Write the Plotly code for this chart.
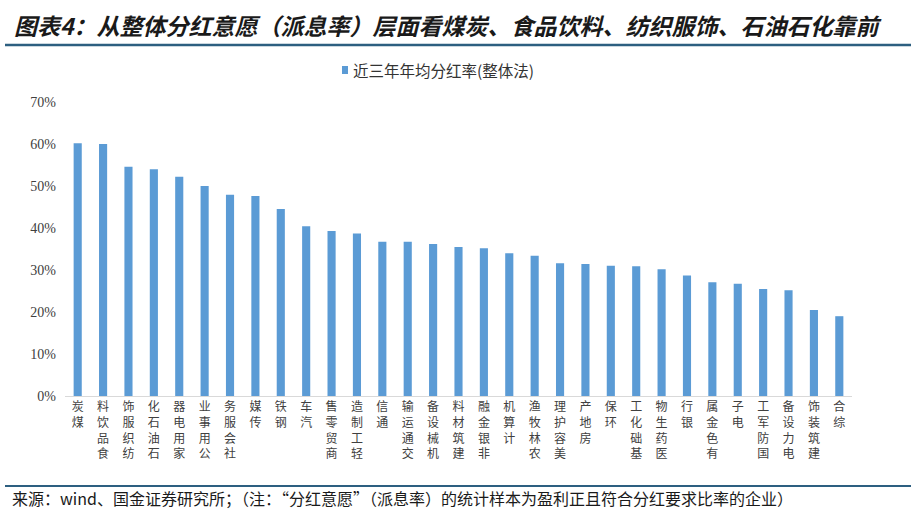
import plotly.graph_objects as go

# industries, sorted by payout ratio
industries = ['煤炭', '食品饮料', '纺织服饰', '石油石化', '家用电器', '公用事业', '社会服务', '传媒',
              '钢铁', '汽车', '商贸零售', '轻工制造', '通信', '交通运输', '机械设备', '建筑材料',
              '非银金融', '计算机', '农林牧渔', '美容护理', '房地产', '环保', '基础化工', '医药生物',
              '银行', '有色金属', '电子', '国防军工', '电力设备', '建筑装饰', '综合']
payout = [0.602, 0.600, 0.546, 0.540, 0.522, 0.500, 0.479, 0.476,
          0.445, 0.404, 0.393, 0.387, 0.367, 0.367, 0.362, 0.355,
          0.352, 0.340, 0.334, 0.316, 0.314, 0.310, 0.309, 0.302,
          0.287, 0.271, 0.267, 0.255, 0.252, 0.205, 0.190]
y_ticks = [0, 0.1, 0.2, 0.3, 0.4, 0.5, 0.6, 0.7]
series_name = '近三年年均分红率(整体法)'

# vertical labels, read bottom to top
tick_text = ['<br>'.join(reversed(n)) for n in industries]

W, H = 911, 512
L, R, T, B = 65, 59, 102, 116
pw, ph = W - L - R, H - T - B
BLUE = '#5B9BD5'
RULE = '#2d5f80'


def px_x(x):
    return (x - L) / pw


def px_y(y):
    return (H - B - y) / ph


fig = go.Figure()
fig.add_trace(go.Bar(x=industries, y=payout, name=series_name,
                     marker=dict(color=BLUE, line=dict(width=0))))

fig.update_layout(
    width=W, height=H,
    margin=dict(l=L, r=R, t=T, b=B),
    plot_bgcolor='white', paper_bgcolor='white',
    bargap=0.68,
    showlegend=False,
    font=dict(family='Noto Sans CJK SC'),
)
fig.update_xaxes(tickmode='array', tickvals=industries, ticktext=tick_text,
                 tickangle=0, showline=True, linecolor='#d9d9d9', linewidth=1,
                 ticks='', showgrid=False,
                 tickfont=dict(family='Noto Sans CJK SC', size=12, color='#404040'))
fig.update_yaxes(range=[0, 0.7], tickvals=y_ticks, tickformat='.0%', showgrid=False,
                 zeroline=False, showline=False, ticks='', ticklabelstandoff=8,
                 tickfont=dict(family='Liberation Serif', size=14, color='#404040'))

# legend (small square + label)
fig.add_shape(type='rect', xref='paper', yref='paper', x0=px_x(342), x1=px_x(348),
              y0=px_y(74), y1=px_y(66), fillcolor=BLUE, line=dict(width=0))
fig.add_annotation(xref='paper', yref='paper', x=px_x(351), y=px_y(70), xanchor='left', yanchor='middle',
                   text=series_name, showarrow=False,
                   font=dict(family='Noto Sans CJK SC', size=15.5, color='#333333'))

# title and rules
fig.add_annotation(xref='paper', yref='paper', x=px_x(12), y=px_y(25), xanchor='left', yanchor='middle',
                   text='<b><i>图表4：从整体分红意愿（派息率）层面看煤炭、食品饮料、纺织服饰、石油石化靠前</i></b>',
                   showarrow=False, font=dict(family='Noto Sans CJK SC', size=23, color='#1a1a1a'))
fig.add_shape(type='line', xref='paper', yref='paper', x0=px_x(5), x1=px_x(911),
              y0=px_y(45), y1=px_y(45), line=dict(color=RULE, width=2.5))
fig.add_shape(type='line', xref='paper', yref='paper', x0=px_x(5), x1=px_x(911),
              y0=px_y(486), y1=px_y(486), line=dict(color=RULE, width=2))
fig.add_annotation(xref='paper', yref='paper', x=px_x(10), y=px_y(498), xanchor='left', yanchor='middle',
                   text='来源：wind、国金证券研究所；（注：“分红意愿”（派息率）的统计样本为盈利正且符合分红要求比率的企业）',
                   showarrow=False, font=dict(family='Noto Sans CJK SC', size=16, color='#1a1a1a'))

fig.write_html("out.html", config={'displayModeBar': False},
               post_script="document.body.style.margin='0';")
